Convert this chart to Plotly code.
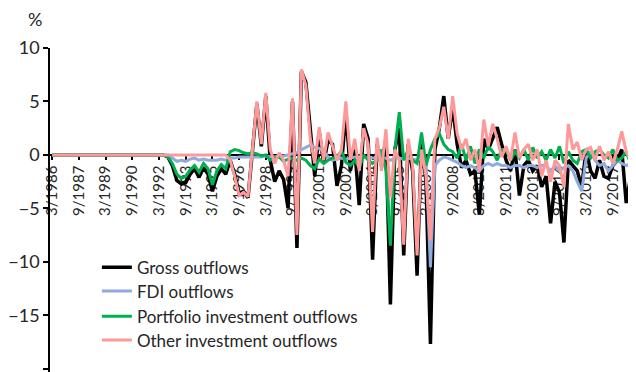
import plotly.graph_objects as go

# quarterly observations, 3/1986 .. 12/2018
quarters = [f"{m}/{y}" for y in range(1986, 2019) for m in (3, 6, 9, 12)]

tick_labels = ["3/1986", "9/1987", "3/1989", "9/1990", "3/1992", "9/1993",
               "3/1995", "9/1996", "3/1998", "9/1999", "3/2001", "9/2002",
               "3/2004", "9/2005", "3/2007", "9/2008", "3/2010", "9/2011",
               "3/2013", "9/2014", "3/2016", "9/2017"]

zeros = [0.0] * 26

gross = zeros + [
    -0.2, -1.0, -2.4, -2.7, -2.6, -1.8, -1.3, -2.1, -1.2, -1.8,
    -3.4, -2.0, -1.3, -1.8, -0.5, -1.8, -3.6, -3.4, -4.0, 0.3,
    4.8, 0.8, 5.5, -0.5, -2.5, -1.5, -2.3, -5.0, 5.0, -8.7,
    7.8, 6.8, 2.5, -2.0, 2.2, -0.8, 1.4, 1.0, -2.9, -1.0,
    4.0, -1.5, 0.5, -4.7, 2.9, 1.5, -9.8, 1.0, -1.0, 1.5,
    -14.0, 0.5, 2.5, -9.4, 1.0, -1.5, -11.3, 1.5, -2.5, -17.7,
    0.5, 2.5, 5.5, 1.5, 4.5, 1.0, -1.2, -0.5, -1.8, -1.5,
    -5.6, 1.5, 0.5, 1.5, 2.6, 1.0, -0.5, -1.5, 0.5, -3.8,
    -1.0, -0.5, -1.5, -1.0, -3.0, -2.0, -6.4, -2.5, -3.5, -8.2,
    -0.5, -1.0, -1.5, -3.0, 0.5, -1.5, -2.2, -0.5, -2.0, -2.2,
    -1.0, -0.5, 0.5, -4.5, -2.0, -1.0]

fdi = zeros + [
    0.0, -0.3, -0.6, -0.5, -0.6, -0.4, -0.3, -0.5, -0.4, -0.5,
    -0.5, -0.5, -0.4, -0.5, -0.3, -0.3, -0.2, -0.2, -0.2, -0.2,
    -0.2, -0.2, -0.1, -0.2, -0.2, -0.1, -0.1, 0.0, 0.1, 0.2,
    0.5, 0.7, 0.9, 0.7, 0.6, 0.3, -0.2, -0.5, -0.4, -0.3,
    -0.4, -0.3, -0.2, -0.3, -0.2, -0.3, -0.3, -0.3, -0.4, -0.3,
    -0.5, -0.3, -0.3, -0.4, -0.3, -0.4, -0.5, -0.3, -0.6, -10.5,
    -1.0, -0.5, -0.2, -0.3, -0.5, -0.7, -1.0, -1.2, -1.0, -1.2,
    -1.5, -1.0, -0.8, -1.0, -0.8, -1.0, -1.0, -1.2, -1.0, -1.0,
    -1.2, -1.0, -1.0, -1.2, -1.0, -1.0, -1.5, -1.0, -1.5, -1.2,
    -1.0, -1.5, -2.5, -3.4, -0.3, 0.3, -0.5, -1.0, -0.8, -1.5,
    -1.0, -0.5, -0.8, -1.0, -0.8, -0.5]

portfolio = zeros + [
    -0.2, -0.8, -1.8, -2.2, -2.0, -1.4, -1.0, -1.6, -0.8, -1.3,
    -2.8, -1.5, -0.9, -1.3, 0.3, 0.5, 0.4, 0.2, 0.1, 0.2,
    0.1, -0.1, 0.0, -0.5, -0.3, -0.2, -0.6, -0.4, -0.3, -0.5,
    -0.3, -0.5, -1.0, -1.3, -0.4, -0.8, -0.5, -0.3, -0.2, 0.4,
    -0.7, -1.0, -0.5, -1.2, 0.0, -0.5, -0.8, -0.5, 0.5, -1.5,
    -8.5, 0.5, 4.0, -0.5, 0.5, -0.5, -0.8, 2.1, -1.0, 0.5,
    1.5, 2.0, 1.0, 0.5, 0.3, -0.3, 1.0, -0.5, 0.8, -0.8,
    0.5, -0.3, 0.8, 0.3, -0.5, 0.5, 0.5, -0.5, 0.3, -0.3,
    0.5, -0.5, 0.7, -0.3, 0.3, -0.5, 0.5, -0.3, 0.8, -0.8,
    0.3, -0.5, -0.8, 0.3, 0.5, -0.3, 0.3, 0.5, 0.0, -0.3,
    0.5, -0.5, -0.3, 0.3, -0.8, 0.2]

other = zeros + [
    0.0, 0.0, 0.0, 0.0, 0.0, 0.0, 0.0, 0.0, 0.0, 0.0,
    0.0, 0.0, 0.0, 0.0, -0.5, -2.0, -3.8, -3.5, -3.9, 0.5,
    5.0, 1.0, 5.8, 0.5, -0.8, 0.2, -0.5, -2.0, 5.3, -7.5,
    8.0, 6.5, 1.5, -0.8, 2.6, -0.5, 2.1, 0.8, -0.5, 0.5,
    5.0, -0.5, 1.5, -1.5, 2.5, 1.0, -7.2, 1.6, -1.5, 2.4,
    -4.0, 0.5, -0.5, -8.4, 1.5, -1.0, -9.4, 0.5, -2.0, -8.0,
    1.5, 2.5, 4.5, 1.5, 5.5, 2.0, 0.5, 1.5, -0.5, 0.5,
    -1.5, 3.3, 0.8, 2.9, 1.5, -0.2, 0.8, -0.5, 2.1, -0.3,
    0.5, 1.0, -0.5, 0.5, -2.0, -0.5, -2.5, -0.5, -1.0, -3.0,
    2.9, 0.5, 1.2, -0.5, 0.5, 0.7, -0.5, 0.8, -0.5, 0.3,
    -0.8, 0.5, 2.2, 0.3, -0.5, 0.5]

series = [
    ("Gross outflows", gross, "#000000", 3.5),
    ("FDI outflows", fdi, "#8FAADC", 3),
    ("Portfolio investment outflows", portfolio, "#00B050", 3),
    ("Other investment outflows", other, "#FF9999", 3),
]

font = "Lato, 'Open Sans', sans-serif"
txt = "#262626"
y_lo, y_hi = -20.5, 10

fig = go.Figure()
legend_names = ["legend", "legend2", "legend3", "legend4"]
legend_rows = [0.326, 0.253, 0.176, 0.103]
for (name, vals, col, w), lg in zip(series, legend_names):
    fig.add_trace(go.Scatter(x=quarters, y=vals, name=name, mode="lines",
                             legend=lg, line=dict(color=col, width=w)))

# one legend per row so the row spacing matches the source
legends = {}
for lg, yy in zip(legend_names, legend_rows):
    legends[lg] = dict(x=0.080, y=yy, xanchor="left", yanchor="middle",
                       font=dict(size=17, color=txt),
                       bgcolor="rgba(0,0,0,0)")

# page body adds 8px; the plot runs slightly past the window's bottom edge
fig.update_layout(
    width=628, height=366,
    margin=dict(l=42, r=0, t=40, b=0),
    plot_bgcolor="white", paper_bgcolor="white",
    font=dict(family=font, color=txt, size=17),
    showlegend=True,
    annotations=[dict(text="%", xref="paper", yref="paper",
                      x=-0.026, y=1.09, xanchor="center", yanchor="middle",
                      showarrow=False, font=dict(size=18, color=txt))],
    **legends,
)

fig.update_xaxes(
    type="category", categoryorder="array", categoryarray=quarters,
    range=[-0.5, 131.2], tickmode="array", tickvals=tick_labels,
    ticktext=tick_labels, tickangle=-90, tickfont=dict(size=15, color=txt),
    showgrid=False, showline=True, linecolor="black", linewidth=1.5,
    ticks="outside", ticklen=4, tickcolor="black", tickwidth=1.5,
    anchor="free", position=-y_lo / (y_hi - y_lo), layer="below traces",
    automargin=False, zeroline=False,
)
fig.update_yaxes(
    range=[y_lo, y_hi], tickvals=[10, 5, 0, -5, -10, -15, -20],
    showgrid=False, zeroline=False,
    showline=True, linecolor="black", linewidth=1.5,
    ticks="outside", ticklen=5, tickcolor="black", tickwidth=1.5,
    tickfont=dict(size=18, color=txt), automargin=False,
)

fig.write_html("out.html")
